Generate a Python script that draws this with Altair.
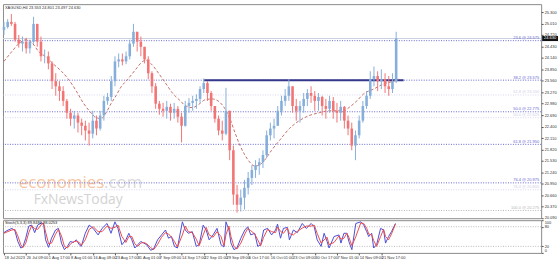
import altair as alt
import pandas as pd

# ---------------- data ----------------
title_text = "XAGUSD,H4  23.553 24.801 23.497 24.630"
first_open = 24.85
high = [25.05, 25.12, 25.25, 25.05, 24.72, 24.68, 24.65, 24.60, 25.18, 25.00,
        24.68, 24.35, 24.30, 24.05, 23.75, 23.55, 23.42, 23.10, 22.85, 22.80,
        22.75, 22.60, 22.55, 22.50, 22.80, 22.68, 22.80, 23.18, 23.25, 23.68,
        24.18, 24.25, 24.25, 24.30, 24.60, 25.00, 24.80, 24.68, 24.42, 24.18,
        23.80, 23.50, 23.05, 23.00, 23.05, 22.98, 23.00, 22.92, 22.75, 23.05,
        23.12, 23.18, 23.22, 23.42, 23.62, 23.55, 23.30, 22.92, 22.68, 22.55,
        23.38, 22.80, 21.92, 20.92, 20.80, 21.05, 21.25, 21.42, 21.55, 21.60,
        21.80, 22.30, 22.50, 22.60, 22.92, 23.18, 23.35, 23.60, 23.42, 23.10,
        23.05, 23.25, 23.35, 23.42, 23.30, 23.25, 23.18, 23.10, 23.18, 23.15,
        23.00, 23.05, 22.92, 22.68, 22.50, 22.30, 22.68, 23.05, 23.30, 23.80,
        23.92, 23.80, 23.85, 23.75, 23.68, 23.75, 24.80]
low = [24.72, 24.88, 24.95, 24.55, 24.40, 24.30, 24.25, 24.25, 24.50, 24.42,
       24.05, 24.00, 23.85, 23.35, 23.18, 23.05, 22.92, 22.60, 22.42, 22.35,
       22.25, 22.18, 22.05, 21.92, 22.10, 22.18, 22.30, 22.55, 22.95, 23.05,
       23.42, 23.90, 23.95, 23.98, 24.10, 24.42, 24.30, 24.18, 24.00, 23.60,
       23.25, 22.85, 22.70, 22.65, 22.60, 22.55, 22.60, 22.50, 22.00, 22.40,
       22.75, 22.80, 22.85, 23.00, 23.25, 23.05, 22.80, 22.50, 22.18, 22.05,
       22.18, 21.55, 20.42, 20.22, 20.25, 20.30, 20.68, 20.92, 21.10, 21.18,
       21.35, 21.60, 22.05, 22.10, 22.42, 22.68, 22.92, 23.05, 22.75, 22.55,
       22.50, 22.75, 22.92, 23.00, 22.80, 22.80, 22.68, 22.60, 22.75, 22.60,
       22.50, 22.55, 22.35, 22.18, 21.80, 21.55, 22.10, 22.50, 22.85, 23.10,
       23.42, 23.30, 23.35, 23.25, 23.18, 23.25, 23.50]
close = [24.92, 25.05, 25.00, 24.60, 24.50, 24.55, 24.38, 24.55, 25.00, 24.55,
         24.18, 24.18, 24.00, 23.55, 23.42, 23.30, 23.05, 22.75, 22.60, 22.68,
         22.50, 22.42, 22.30, 22.22, 22.55, 22.35, 22.68, 23.05, 23.15, 23.55,
         24.05, 24.10, 24.05, 24.18, 24.50, 24.80, 24.55, 24.42, 24.10, 23.75,
         23.42, 22.98, 22.85, 22.80, 22.90, 22.75, 22.85, 22.65, 22.42, 22.92,
         23.00, 23.05, 23.10, 23.35, 23.50, 23.25, 22.92, 22.60, 22.30, 22.22,
         22.80, 21.80, 20.68, 20.42, 20.60, 20.85, 21.10, 21.30, 21.42, 21.50,
         21.68, 22.18, 22.35, 22.42, 22.80, 23.05, 23.18, 23.42, 22.92, 22.80,
         22.92, 23.10, 23.25, 23.18, 23.05, 23.15, 22.92, 22.85, 23.05, 22.80,
         22.75, 22.90, 22.55, 22.35, 21.92, 22.18, 22.55, 22.92, 23.18, 23.60,
         23.68, 23.55, 23.60, 23.42, 23.35, 23.55, 24.63]

ma_idx = [0, 2.14, 4.02, 5.89, 7.5, 9.38, 11.52, 13.39, 15.54, 17.41,
          19.55, 21.43, 23.04, 24.91, 26.25, 27.59, 28.93, 30.27, 31.61, 33.49,
          35.63, 37.5, 38.31, 39.65, 41.79, 43.66, 45.54, 47.68, 49.02, 50.9,
          52.5, 54.38, 56.26, 57.86, 59.74, 61.08, 62.42, 63.76, 65.1, 66.43,
          67.77, 69.11, 70.45, 72.33, 74.47, 77.15, 79.83, 82.51, 85.19, 87.87,
          90.54, 91.88, 93.22, 95.37, 97.24, 99.92, 102.6, 105.28, 106.62]
ma_val = [24.05, 24.30, 24.50, 24.60, 24.53, 24.30, 24.15, 23.98, 23.80, 23.60,
          23.30, 23.00, 22.80, 22.63, 22.60, 22.75, 22.98, 23.18, 23.40, 23.60,
          23.85, 24.05, 24.08, 24.00, 23.75, 23.50, 23.25, 23.05, 22.93, 22.88,
          22.95, 23.08, 23.10, 23.05, 22.85, 22.60, 22.25, 21.93, 21.68, 21.50,
          21.40, 21.43, 21.55, 21.80, 22.05, 22.35, 22.55, 22.68, 22.75, 22.80,
          22.80, 22.80, 22.88, 23.05, 23.23, 23.35, 23.48, 23.55, 23.60]

fib_levels = [24.575, 23.575, 22.775, 21.950, 20.975]
fib_names = ["23.6", "38.2", "50.0", "61.8", "76.4"]
faint_levels = [23.200, 22.625, 20.800]
faint_names = ["61.8", "50.0", "76.4"]
base_level = [20.275]
base_name = ["100.0"]
trend_from, trend_to, trend_level = 54.1, 108.0, 23.575
bid_price = 24.63

price_ticks = [25.300, 25.010, 24.720, 24.430, 24.140, 23.850, 23.560, 23.270,
               22.980, 22.690, 22.400, 22.110, 21.820, 21.530, 21.240, 20.950,
               20.660, 20.370, 20.090]

date_idx = [0, 6, 12, 18, 24, 30, 36, 42, 48, 54, 60, 66, 72, 78, 84, 90, 96, 102]
date_labels = ["18 Jul 2023", "26 Jul 09:00", "1 Aug 17:00", "8 Aug 01:00",
               "16 Aug 09:00", "23 Aug 17:00", "31 Aug 01:00", "7 Sep 09:00",
               "14 Sep 17:00", "22 Sep 01:00", "29 Sep 09:00", "6 Oct 17:00",
               "16 Oct 01:00", "23 Oct 09:00", "30 Oct 17:00", "7 Nov 01:00",
               "14 Nov 09:00", "21 Nov 17:00"]

stoch_x = [0, 0.8, 2.14, 2.95, 3.75, 4.55, 5.09, 5.89, 6.7, 7.5,
           8.3, 9.11, 10.18, 10.72, 11.25, 12.06, 12.86, 13.93, 14.73, 15.54,
           16.34, 17.15, 17.95, 18.75, 19.56, 20.36, 20.89, 21.97, 23.04, 24.11,
           25.45, 26.52, 27.86, 28.93, 30.0, 30.81, 31.88, 32.95, 33.75, 34.56,
           35.36, 36.17, 36.97, 37.77, 38.58, 39.65, 40.45, 41.52, 42.59, 43.66,
           44.47, 45.27, 46.08, 46.88, 48.22, 49.02, 49.83, 50.9, 51.97, 52.77,
           53.84, 54.65, 55.45, 56.52, 57.59, 58.66, 59.47, 60.01, 60.81, 61.35,
           62.15, 62.96, 64.03, 65.1, 65.9, 66.71, 67.77, 68.58, 69.38, 70.19,
           71.26, 72.33, 73.4, 73.94, 74.74, 75.54, 76.61, 77.15, 78.22, 79.29,
           80.63, 81.7, 83.04, 83.85, 84.65, 85.72, 86.53, 87.33, 87.87, 89.21,
           90.54, 91.08, 91.88, 92.69, 93.22, 94.03, 95.1, 96.44, 97.24, 98.04,
           98.58, 99.39, 99.92, 100.72, 101.79, 102.6, 103.13, 103.94, 104.74, 105.81]
stoch_k = [62, 68, 75, 68, 35, 15, 18, 45, 82, 85,
           62, 85, 92, 88, 40, 17, 45, 70, 75, 30,
           10, 20, 35, 32, 40, 25, 20, 60, 85, 75,
           55, 75, 90, 60, 95, 75, 25, 40, 60, 40,
           15, 25, 35, 30, 25, 8, 12, 40, 55, 70,
           45, 50, 20, 15, 95, 70, 60, 65, 20, 25,
           85, 70, 40, 55, 75, 25, 18, 95, 70, 30,
           10, 15, 45, 70, 80, 55, 60, 20, 25, 70,
           75, 55, 70, 88, 45, 75, 78, 40, 70, 62,
           90, 75, 90, 80, 40, 20, 60, 35, 15, 50,
           55, 30, 60, 60, 35, 10, 90, 95, 85, 65,
           50, 60, 15, 25, 75, 70, 30, 50, 65, 90]
stoch_d = [60, 64, 70, 72, 52, 25, 16, 30, 62, 83,
           74, 72, 88, 90, 64, 28, 30, 57, 72, 52,
           20, 15, 27, 34, 36, 32, 23, 40, 72, 80,
           65, 65, 82, 75, 78, 85, 50, 32, 50, 50,
           28, 20, 30, 32, 28, 16, 10, 26, 48, 62,
           58, 48, 35, 18, 55, 82, 65, 62, 42, 22,
           55, 78, 55, 48, 65, 50, 22, 56, 82, 50,
           20, 12, 30, 58, 75, 68, 58, 40, 22, 48,
           72, 65, 62, 79, 66, 60, 76, 59, 55, 66,
           76, 82, 82, 85, 60, 30, 40, 48, 25, 32,
           52, 42, 45, 60, 48, 22, 50, 92, 90, 75,
           58, 55, 38, 20, 50, 72, 50, 40, 58, 88]
stoch_levels = [80, 20]
stoch_title = "Stoch(5,3,3) 89.8486 88.0253"

# ---------------- tables ----------------
candles = pd.DataFrame({"i": list(range(len(close))), "high": high, "low": low, "close": close})
candles["open"] = [first_open] + close[:-1]
candles["dir"] = ["up" if c >= o else "down" for c, o in zip(candles["close"], candles["open"])]
ma_df = pd.DataFrame({"i": ma_idx, "v": ma_val})
fib_df = pd.DataFrame({"level": fib_levels,
                       "label": [f"{n} @ {v:.3f}" for n, v in zip(fib_names, fib_levels)]})
faint_df = pd.DataFrame({"level": faint_levels,
                         "label": [f"{n} @ {v:.3f}" for n, v in zip(faint_names, faint_levels)]})
base_df = pd.DataFrame({"level": base_level,
                        "label": [f"{n} @ {v:.3f}" for n, v in zip(base_name, base_level)]})
trend_df = pd.DataFrame({"a": [trend_from], "b": [trend_to], "level": [trend_level]})
bid_df = pd.DataFrame({"p": [bid_price], "lo": [bid_price - 0.065], "hi": [bid_price + 0.065],
                       "t": [f"{bid_price:.3f}"]})
stoch_df = pd.DataFrame({"x": stoch_x, "k": stoch_k, "d": stoch_d})
lvl_df = pd.DataFrame({"v": stoch_levels})
one = pd.DataFrame({"a": [0]})

# ---------------- scales / axes ----------------
W = 543
xs = alt.Scale(domain=[-0.268, 145.19], nice=False, zero=False)
ys = alt.Scale(domain=[20.08, 25.50], nice=False, zero=False)
yaxis = alt.Axis(orient="right", values=price_ticks, format=".3f", labelFontSize=4,
                 tickSize=2, labelPadding=1, domain=False, grid=False, title=None,
                 labelOverlap=False, labelFlush=False, labelBound=False)

UP = "#86aedb"
DOWN = "#f27474"
FIB = "#6767cf"

base = alt.Chart(candles)

water1 = alt.Chart(one).mark_text(text="economies", font="Open Sans", fontSize=17,
                                  color="#f7b78a", align="left", baseline="alphabetic",
                                  opacity=0.8).encode(x=alt.value(16), y=alt.value(186))
water2 = alt.Chart(one).mark_text(text=".com", font="Open Sans", fontSize=17,
                                  color="#d9d9d9", align="left", baseline="alphabetic").encode(
    x=alt.value(102), y=alt.value(186))
water3 = alt.Chart(one).mark_text(text="FxNewsToday", font="Open Sans", fontSize=14,
                                  color="#d3d3d3", align="left", baseline="alphabetic").encode(
    x=alt.value(31), y=alt.value(202))

fib_rules = alt.Chart(fib_df).mark_rule(color=FIB, strokeDash=[1, 1.5], strokeWidth=1).encode(
    y=alt.Y("level:Q", scale=ys, axis=yaxis))
fib_text = alt.Chart(fib_df).mark_text(color=FIB, fontSize=4, align="right", baseline="bottom",
                                       dy=-0.5, font="Liberation Sans").encode(
    x=alt.value(541), y=alt.Y("level:Q", scale=ys, axis=yaxis), text="label:N")
faint_rules = alt.Chart(faint_df).mark_rule(color="#d6d6f0", strokeDash=[1, 1.5]).encode(
    y=alt.Y("level:Q", scale=ys, axis=yaxis))
faint_text = alt.Chart(faint_df).mark_text(color="#cfcfe8", fontSize=4, align="right",
                                           baseline="bottom", dy=-0.5,
                                           font="Liberation Sans").encode(
    x=alt.value(541), y=alt.Y("level:Q", scale=ys, axis=yaxis), text="label:N")
base_rules = alt.Chart(base_df).mark_rule(color="#b5b5b5", strokeDash=[1, 1.5]).encode(
    y=alt.Y("level:Q", scale=ys, axis=yaxis))
base_text = alt.Chart(base_df).mark_text(color="#b5b5b5", fontSize=4, align="right",
                                         baseline="bottom", dy=-0.5,
                                         font="Liberation Sans").encode(
    x=alt.value(541), y=alt.Y("level:Q", scale=ys, axis=yaxis), text="label:N")
bid_line = alt.Chart(bid_df).mark_rule(color="#c9d2e2", strokeWidth=1).encode(
    y=alt.Y("p:Q", scale=ys, axis=yaxis))

trend = alt.Chart(trend_df).mark_rule(color="#34378a", strokeWidth=2).encode(
    x=alt.X("a:Q", scale=xs, axis=None), x2="b:Q",
    y=alt.Y("level:Q", scale=ys, axis=yaxis))

ma = alt.Chart(ma_df).mark_line(color="#c46e66", strokeWidth=1, strokeDash=[3, 2],
                                interpolate="monotone").encode(
    x=alt.X("i:Q", scale=xs, axis=None), y=alt.Y("v:Q", scale=ys, axis=yaxis))

color = alt.Color("dir:N", scale=alt.Scale(domain=["up", "down"], range=[UP, DOWN]), legend=None)
wicks = base.mark_rule(strokeWidth=1).encode(
    x=alt.X("i:Q", scale=xs, axis=None), y=alt.Y("low:Q", scale=ys, axis=yaxis), y2="high:Q",
    color=color)
bodies = base.mark_rule(strokeWidth=2.6, strokeCap="butt").encode(
    x=alt.X("i:Q", scale=xs, axis=None), y=alt.Y("open:Q", scale=ys, axis=yaxis), y2="close:Q",
    color=color)

bid_box = alt.Chart(bid_df).mark_rect(color="#111111").encode(
    x=alt.value(544), x2=alt.value(560), y=alt.Y("lo:Q", scale=ys, axis=yaxis), y2="hi:Q")
bid_txt = alt.Chart(bid_df).mark_text(color="white", fontSize=4, align="center",
                                      baseline="middle", font="Liberation Sans").encode(
    x=alt.value(552), y=alt.Y("p:Q", scale=ys, axis=yaxis), text="t:N")

title = alt.Chart(one).mark_text(text=title_text, fontSize=4, color="#333333", align="left",
                                 baseline="top", font="Liberation Sans").encode(
    x=alt.value(2), y=alt.value(2))

main = alt.layer(water1, water2, water3, faint_rules, faint_text, base_rules, base_text,
                 bid_line, fib_rules, fib_text, trend, ma, wicks, bodies, bid_box, bid_txt,
                 title).properties(width=W, height=216)

# ---------------- stochastic ----------------
expr = "[" + ",".join(f"'{s}'" for s in date_labels) + "][indexof([" + \
       ",".join(str(v) for v in date_idx) + "], datum.value)]"
xaxis = alt.Axis(values=date_idx, labelExpr=expr, labelAlign="left", labelFontSize=4,
                 tickSize=2, labelPadding=1, domain=False, grid=False, title=None,
                 labelOverlap=False, labelFlush=False, labelBound=False)
ss = alt.Scale(domain=[0, 100], nice=False)
saxis = alt.Axis(orient="right", values=[0, 20, 80, 100], labelFontSize=4, tickSize=2,
                 labelPadding=1, domain=False, grid=False, title=None, labelOverlap=False,
                 labelFlush=True, labelBound=False)

lv = alt.Chart(lvl_df).mark_rule(color="#b8b8b8", strokeDash=[1, 1.5]).encode(
    y=alt.Y("v:Q", scale=ss, axis=saxis))
kline = alt.Chart(stoch_df).mark_line(color="#4b4bd8", strokeWidth=1).encode(
    x=alt.X("x:Q", scale=xs, axis=xaxis), y=alt.Y("k:Q", scale=ss, axis=saxis))
dline = alt.Chart(stoch_df).mark_line(color="#ec4b4b", strokeWidth=1).encode(
    x=alt.X("x:Q", scale=xs, axis=xaxis), y=alt.Y("d:Q", scale=ss, axis=saxis))
stitle = alt.Chart(one).mark_text(text=stoch_title, fontSize=4, color="#222222", align="left",
                                  baseline="top", font="Liberation Sans").encode(
    x=alt.value(2), y=alt.value(1))

stoch = alt.layer(lv, kline, dline, stitle).properties(width=W, height=33)

chart = alt.vconcat(main, stoch, spacing=2, bounds="flush").properties(
    padding={"left": 1, "top": 2, "right": 0, "bottom": 0}, background="white"
).configure_view(stroke="#8a8a8a", strokeWidth=1).configure_axis(
    labelFont="Liberation Sans", labelColor="#333333", tickColor="#555555")

chart.save("out.html", embed_options={"renderer": "svg", "actions": False})
